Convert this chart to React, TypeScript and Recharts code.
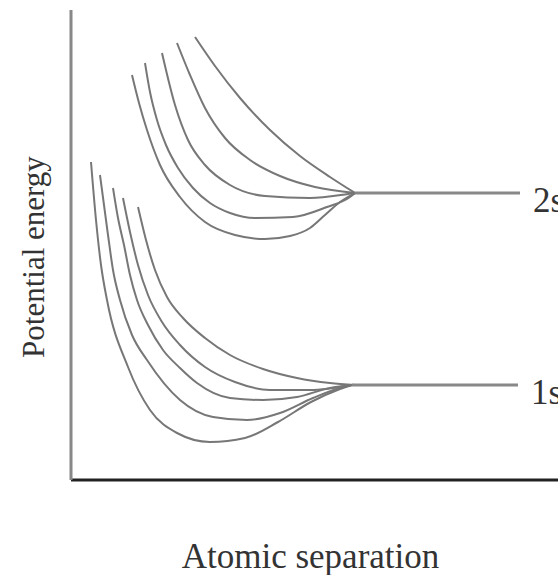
import { LineChart, Line, XAxis, YAxis } from "recharts";

// separation (x) and potential energy (y), arbitrary units
const s2a = [
  { x: 1.22, y: 8.1 }, { x: 1.36, y: 7.54 }, { x: 1.52, y: 7.0 }, { x: 1.78, y: 6.3 },
  { x: 2.18, y: 5.66 }, { x: 2.68, y: 5.16 }, { x: 3.28, y: 4.9 }, { x: 3.88, y: 4.82 },
  { x: 4.38, y: 4.88 }, { x: 4.78, y: 5.04 }, { x: 5.08, y: 5.3 }, { x: 5.38, y: 5.56 },
  { x: 5.68, y: 5.74 },
];
const s2b = [
  { x: 1.48, y: 8.34 }, { x: 1.58, y: 7.76 }, { x: 1.72, y: 7.2 }, { x: 1.9, y: 6.7 },
  { x: 2.14, y: 6.24 }, { x: 2.44, y: 5.84 }, { x: 2.78, y: 5.54 }, { x: 3.18, y: 5.34 },
  { x: 3.68, y: 5.24 }, { x: 4.44, y: 5.26 }, { x: 5.12, y: 5.46 }, { x: 5.58, y: 5.66 },
  { x: 5.68, y: 5.74 },
];
const s2c = [
  { x: 1.82, y: 8.54 }, { x: 2.08, y: 7.5 }, { x: 2.34, y: 6.8 }, { x: 2.68, y: 6.3 },
  { x: 3.18, y: 5.9 }, { x: 3.88, y: 5.68 }, { x: 4.78, y: 5.64 }, { x: 5.54, y: 5.72 },
  { x: 5.68, y: 5.74 },
];
const s2d = [
  { x: 2.12, y: 8.74 }, { x: 2.38, y: 8.1 }, { x: 2.68, y: 7.44 }, { x: 3.08, y: 6.84 },
  { x: 3.58, y: 6.4 }, { x: 4.18, y: 6.08 }, { x: 4.88, y: 5.86 }, { x: 5.68, y: 5.74 },
];
const s2e = [
  { x: 2.48, y: 8.86 }, { x: 2.88, y: 8.28 }, { x: 3.38, y: 7.64 }, { x: 3.98, y: 7.0 },
  { x: 4.58, y: 6.48 }, { x: 5.18, y: 6.06 }, { x: 5.68, y: 5.74 },
];
const level2s = [{ x: 5.68, y: 5.74 }, { x: 8.98, y: 5.74 }];

const s1a = [
  { x: 0.4, y: 6.36 }, { x: 0.5, y: 5.2 }, { x: 0.6, y: 4.3 }, { x: 0.72, y: 3.6 },
  { x: 1.14, y: 2.26 }, { x: 1.58, y: 1.4 }, { x: 2.12, y: 0.94 }, { x: 2.78, y: 0.76 },
  { x: 3.48, y: 0.84 }, { x: 4.14, y: 1.16 }, { x: 4.8, y: 1.56 }, { x: 5.38, y: 1.82 },
  { x: 5.62, y: 1.9 },
];
const s1b = [
  { x: 0.58, y: 6.1 }, { x: 0.74, y: 4.9 }, { x: 0.84, y: 4.2 }, { x: 0.98, y: 3.6 },
  { x: 1.22, y: 2.9 }, { x: 1.52, y: 2.4 }, { x: 2.18, y: 1.6 }, { x: 2.84, y: 1.26 },
  { x: 3.52, y: 1.2 }, { x: 4.18, y: 1.34 }, { x: 4.84, y: 1.64 }, { x: 5.44, y: 1.86 },
  { x: 5.62, y: 1.9 },
];
const s1c = [
  { x: 0.84, y: 5.84 }, { x: 0.94, y: 5.24 }, { x: 1.06, y: 4.7 }, { x: 1.18, y: 4.1 },
  { x: 1.32, y: 3.6 }, { x: 1.54, y: 3.1 }, { x: 1.84, y: 2.6 }, { x: 2.18, y: 2.24 },
  { x: 2.52, y: 1.94 }, { x: 3.18, y: 1.64 }, { x: 3.84, y: 1.6 }, { x: 4.52, y: 1.66 },
  { x: 5.18, y: 1.84 }, { x: 5.62, y: 1.9 },
];
const s1d = [
  { x: 1.04, y: 5.64 }, { x: 1.18, y: 4.96 }, { x: 1.34, y: 4.3 }, { x: 1.54, y: 3.7 },
  { x: 1.82, y: 3.16 }, { x: 2.18, y: 2.7 }, { x: 2.68, y: 2.26 }, { x: 3.28, y: 1.96 },
  { x: 3.98, y: 1.8 }, { x: 4.78, y: 1.8 }, { x: 5.62, y: 1.9 },
];
const s1e = [
  { x: 1.34, y: 5.46 }, { x: 1.5, y: 4.8 }, { x: 1.68, y: 4.2 }, { x: 1.92, y: 3.66 },
  { x: 2.24, y: 3.24 }, { x: 2.68, y: 2.84 }, { x: 3.18, y: 2.5 }, { x: 3.84, y: 2.22 },
  { x: 4.52, y: 2.04 }, { x: 5.18, y: 1.94 }, { x: 5.68, y: 1.9 },
];
const level1s = [{ x: 5.62, y: 1.9 }, { x: 8.94, y: 1.9 }];

const curves = [s2a, s2b, s2c, s2d, s2e, s1a, s1b, s1c, s1d, s1e];
const levels = [
  { name: "2s", data: level2s },
  { name: "1s", data: level1s },
];

const FONT = "'Liberation Serif', 'Times New Roman', serif";
const TEXT = "#333";

const levelLabel = (name: string) => (props: any) => {
  if (props.index !== 1) return null;
  return (
    <text x={props.x + 13} y={props.y + 19} fontSize={35} fontFamily={FONT} fill={TEXT}>
      {name}
    </text>
  );
};

export default function App() {
  return (
    <div style={{ position: "absolute", left: 0, top: 0, width: 558, height: 575, background: "#fff" }}>
      <LineChart width={558} height={575} margin={{ top: 10, right: 0, bottom: 0, left: 0 }}>
        <XAxis
          type="number"
          dataKey="x"
          domain={[0, 9.74]}
          allowDataOverflow
          tick={false}
          tickLine={false}
          height={95}
          axisLine={{ stroke: "#222", strokeWidth: 3 }}
          label={{
            content: (p: any) => (
              <text
                x={p.viewBox.x + p.viewBox.width / 2 - 4}
                y={p.viewBox.y + 88}
                textAnchor="middle"
                fontSize={35}
                fontFamily={FONT}
                fill={TEXT}
              >
                Atomic separation
              </text>
            ),
          }}
        />
        <YAxis
          type="number"
          dataKey="y"
          domain={[0, 9.4]}
          allowDataOverflow
          tick={false}
          tickLine={false}
          width={71}
          axisLine={{ stroke: "#888", strokeWidth: 3 }}
          label={{
            content: (p: any) => {
              const cx = 33;
              const cy = p.viewBox.y + 247;
              return (
                <text
                  x={cx}
                  y={cy}
                  transform={`rotate(-90, ${cx}, ${cy})`}
                  textAnchor="middle"
                  dominantBaseline="central"
                  fontSize={31}
                  fontFamily={FONT}
                  fill={TEXT}
                >
                  Potential energy
                </text>
              );
            },
          }}
        />
        {curves.map((d, i) => (
          <Line
            key={i}
            data={d}
            dataKey="y"
            type="monotone"
            stroke="#777"
            strokeWidth={2}
            dot={false}
            activeDot={false}
            isAnimationActive={false}
          />
        ))}
        {levels.map((l) => (
          <Line
            key={l.name}
            data={l.data}
            dataKey="y"
            type="linear"
            stroke="#888"
            strokeWidth={3}
            dot={false}
            activeDot={false}
            isAnimationActive={false}
            label={levelLabel(l.name)}
          />
        ))}
      </LineChart>
    </div>
  );
}
